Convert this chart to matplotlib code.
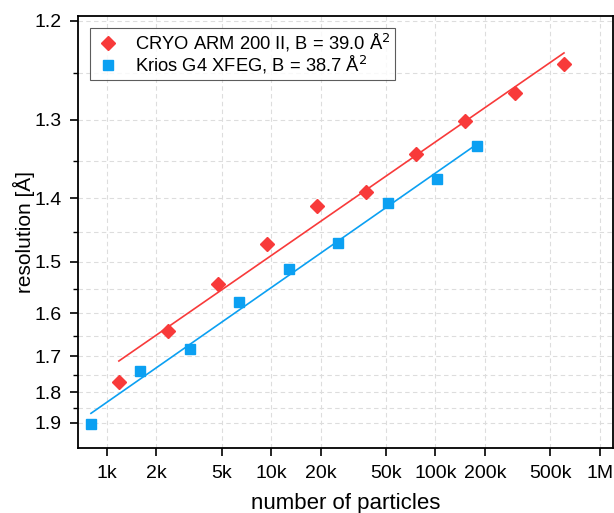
import numpy as np
import matplotlib
matplotlib.use('Agg')
import matplotlib.pyplot as plt
from matplotlib.ticker import FixedLocator, NullLocator

plt.rcParams['font.family'] = ['Liberation Sans', 'DejaVu Sans']

# Datos
n_cryo = [1183, 2366, 4732, 9464, 18928, 37856, 75712, 151424, 302848, 605696]
res_cryo = [1.769, 1.638, 1.541, 1.470, 1.411, 1.391, 1.341, 1.301, 1.270, 1.241]
b_cryo = 39.0

n_krios = [800, 1600, 3200, 6400, 12800, 25600, 51200, 102400, 180000]
res_krios = [1.904, 1.738, 1.681, 1.576, 1.513, 1.468, 1.407, 1.373, 1.331]
b_krios = 38.7

x_ticks = [1e3, 2e3, 5e3, 1e4, 2e4, 5e4, 1e5, 2e5, 5e5, 1e6]
x_labels = ['1k', '2k', '5k', '10k', '20k', '50k', '100k', '200k', '500k', '1M']
y_ticks = [1.2, 1.3, 1.4, 1.5, 1.6, 1.7, 1.8, 1.9]
y_minor = [1.25, 1.35, 1.45, 1.55, 1.65, 1.75, 1.85]

red = '#F83A3A'
blue = '#0BA0F2'


def fit_line(n, d, b):
    # 1/d^2 = (2/B) ln N + c, con pendiente fija por B
    lnn = np.log(np.array(n, dtype=float))
    inv = 1.0 / np.array(d) ** 2
    slope = 2.0 / b
    c = np.mean(inv - slope * lnn)
    xs = np.array([n[0], n[-1]], dtype=float)
    return xs, 1.0 / np.sqrt(slope * np.log(xs) + c)


fig = plt.figure(figsize=(6.14, 5.13), dpi=100)
ax = fig.add_axes([0.127, 0.127, 0.871, 0.842])

ax.set_xscale('log')
ax.set_yscale('function', functions=(lambda d: -1.0 / np.asarray(d) ** 2,
                                     lambda v: 1.0 / np.sqrt(np.abs(np.asarray(v)))))

xs, ys = fit_line(n_cryo, res_cryo, b_cryo)
ax.plot(xs, ys, color=red, lw=1.2, zorder=3)
xs, ys = fit_line(n_krios, res_krios, b_krios)
ax.plot(xs, ys, color=blue, lw=1.2, zorder=3)

ax.plot(n_cryo, res_cryo, 'D', color=red, ms=7.2, ls='none', zorder=4,
        label='CRYO ARM 200 II, B = 39.0 Å$^2$')
ax.plot(n_krios, res_krios, 's', color=blue, ms=7.2, ls='none', zorder=4,
        label='Krios G4 XFEG, B = 38.7 Å$^2$')

ax.set_xlim(667, 1.2e6)
ax.set_ylim(1.996, 1.1956)

ax.xaxis.set_major_locator(FixedLocator(x_ticks))
ax.set_xticklabels(x_labels)
ax.xaxis.set_minor_locator(NullLocator())
ax.yaxis.set_major_locator(FixedLocator(y_ticks))
ax.set_yticklabels([f'{v:.1f}' for v in y_ticks])
ax.yaxis.set_minor_locator(FixedLocator(y_minor))

ax.tick_params(axis='both', which='major', direction='out', length=6, width=1.2,
               labelsize=14, pad=6)
ax.tick_params(axis='y', which='minor', direction='out', length=3.5, width=1.0)

ax.grid(True, which='major', axis='both', ls=(0, (4, 3)), color='#DDDDDD', lw=0.8)
ax.grid(True, which='minor', axis='y', ls=(0, (4, 3)), color='#DDDDDD', lw=0.8)
ax.set_axisbelow(True)

for s in ax.spines.values():
    s.set_linewidth(1.3)

ax.set_xlabel('number of particles', fontsize=16, labelpad=8)
ax.set_ylabel('resolution [Å]', fontsize=15, labelpad=-1)

leg = ax.legend(loc='upper left', bbox_to_anchor=(0.015, 0.98), fontsize=13.2,
                frameon=True, fancybox=False, edgecolor='#333333',
                handletextpad=0.7, borderpad=0.2, labelspacing=0.0, handlelength=1.6,
                borderaxespad=0.2)
leg.get_frame().set_linewidth(0.8)

fig.savefig('out.png', dpi=100)
